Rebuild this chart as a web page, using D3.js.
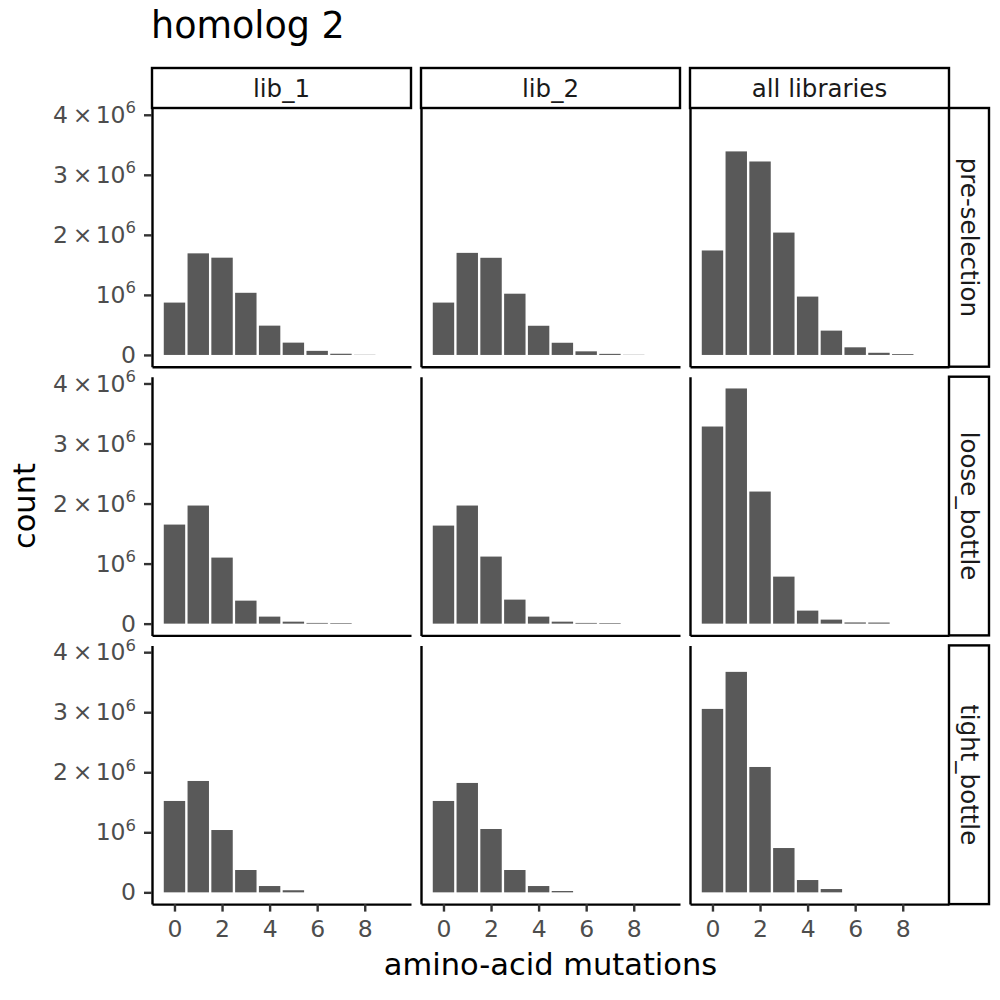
<!DOCTYPE html>
<html>
<head>
<meta charset="utf-8">
<script src="https://cdn.jsdelivr.net/npm/d3@7"></script>
<style>
  html, body { margin: 0; padding: 0; background: #fff; }
  svg { display: block; }
  text { font-family: "DejaVu Sans", sans-serif; }
</style>
</head>
<body>
<svg id="chart" width="1000" height="1000"></svg>
<script>
// ---- data ----
const bins = [0, 1, 2, 3, 4, 5, 6, 7, 8, 9];
const colLabels = ["lib_1", "lib_2", "all libraries"];
const rowLabels = ["pre-selection", "loose_bottle", "tight_bottle"];

const preLib1 = [872000, 1692000, 1620000, 1035000, 488000, 205000, 68000, 20000, 3000, 0];
const preLib2 = [872000, 1700000, 1618000, 1020000, 486000, 203000, 60000, 18000, 3000, 0];
const preAll  = [1740000, 3390000, 3222000, 2038000, 972000, 405000, 127000, 36000, 14000, 0];

const looseLib1 = [1650000, 1967000, 1100000, 383000, 117000, 33000, 12000, 10000, 0, 0];
const looseLib2 = [1633000, 1967000, 1117000, 400000, 117000, 33000, 12000, 10000, 0, 0];
const looseAll  = [3283000, 3917000, 2200000, 783000, 217000, 67000, 20000, 18000, 0, 0];

const tightLib1 = [1522000, 1855000, 1038000, 372000, 105000, 35000, 0, 0, 0, 0];
const tightLib2 = [1522000, 1822000, 1055000, 372000, 105000, 22000, 0, 0, 0, 0];
const tightAll  = [3055000, 3672000, 2088000, 738000, 205000, 55000, 0, 0, 0, 0];

const yTickValues = [0, 1000000, 2000000, 3000000, 4000000];
const xTickValues = [0, 2, 4, 6, 8];
const titleText = "homolog 2";
const xTitle = "amino-acid mutations";
const yTitle = "count";

const grid = [
  [preLib1, preLib2, preAll],
  [looseLib1, looseLib2, looseAll],
  [tightLib1, tightLib2, tightAll]
];

// ---- layout ----
const panelLeft = 152, colStep = 269, panelW = 259;
const panelTop = 108, rowStep = 268.7, panelH = 258.7;
const stripH = 40, stripW = 40;
const barFill = "#595959";
const lineW = 2.4;
const tickFont = 23.5, stripFont = 24.5, axisTitleFont = 30.5, titleFont = 36.5;

const svg = d3.select("#chart");

// scales shared across panels
const barWidth = 0.9;
const xlo = d3.min(bins) - barWidth / 2, xhi = d3.max(bins) + barWidth / 2;
const xpad = 0.05 * (xhi - xlo);
const x = d3.scaleLinear().domain([xlo - xpad, xhi + xpad]).range([0, panelW]);

const allVals = grid.flat(2);
const ymax = d3.max(allVals);
const y = d3.scaleLinear().domain([-0.05 * ymax, 1.05 * ymax]).range([panelH, 0]);

function fmtY(sel) {
  sel.each(function(d) {
    const t = d3.select(this);
    t.text(null);
    if (d === 0) { t.text("0"); return; }
    const m = Math.round(d / 1e6);
    if (m !== 1) {
      t.append("tspan").text(String(m));
      t.append("tspan").attr("dx", "0.2em").text("\u00d7");
      t.append("tspan").attr("dx", "0.14em").text("10");
    } else {
      t.append("tspan").text("10");
    }
    t.append("tspan").attr("font-size", "0.7em").attr("dy", "-0.58em").text("6");
  });
}

// title
svg.append("text")
  .attr("x", 151).attr("y", 38)
  .attr("font-size", titleFont).attr("fill", "#000")
  .text(titleText);

grid.forEach((row, ri) => {
  row.forEach((vals, ci) => {
    const gx = panelLeft + ci * colStep;
    const gy = panelTop + ri * rowStep;
    const g = svg.append("g").attr("transform", `translate(${gx},${gy})`);

    // bars
    g.selectAll("rect.bar")
      .data(bins.map((b, i) => ({ b, v: vals[i] })))
      .join("rect")
      .attr("class", "bar")
      .attr("x", d => x(d.b - barWidth / 2))
      .attr("width", d => x(d.b + barWidth / 2) - x(d.b - barWidth / 2))
      .attr("y", d => y(Math.max(0, d.v)))
      .attr("height", d => y(0) - y(Math.max(0, d.v)))
      .attr("fill", barFill);

    // y axis
    const ya = d3.axisLeft(y).tickSize(8).tickSizeOuter(0).tickPadding(8);
    if (ci === 0) ya.tickValues(yTickValues); else ya.tickValues([]);
    const yg = g.append("g").call(ya);
    yg.select(".domain").attr("stroke", "#000").attr("stroke-width", lineW);
    yg.selectAll(".tick line").attr("stroke", "#333").attr("stroke-width", lineW);
    yg.selectAll(".tick text")
      .attr("font-family", "DejaVu Sans").attr("font-size", tickFont).attr("fill", "#4d4d4d")
      .call(fmtY);

    // x axis
    const xa = d3.axisBottom(x).tickSize(7.5).tickSizeOuter(0).tickPadding(9);
    if (ri === 2) xa.tickValues(xTickValues); else xa.tickValues([]);
    const xg = g.append("g").attr("transform", `translate(0,${panelH})`).call(xa);
    xg.select(".domain").attr("stroke", "#000").attr("stroke-width", lineW);
    xg.selectAll(".tick line").attr("stroke", "#333").attr("stroke-width", lineW);
    xg.selectAll(".tick text")
      .attr("font-family", "DejaVu Sans").attr("font-size", tickFont).attr("fill", "#4d4d4d");
  });
});

// top strips
colLabels.forEach((lab, ci) => {
  const gx = panelLeft + ci * colStep;
  const s = svg.append("g").attr("transform", `translate(${gx},${panelTop - stripH})`);
  s.append("rect").attr("width", panelW).attr("height", stripH)
    .attr("fill", "#fff").attr("stroke", "#000").attr("stroke-width", lineW);
  s.append("text").attr("x", panelW / 2).attr("y", stripH / 2)
    .attr("text-anchor", "middle").attr("dominant-baseline", "central")
    .attr("font-size", stripFont).attr("fill", "#1a1a1a").text(lab);
});

// right strips
rowLabels.forEach((lab, ri) => {
  const gx = panelLeft + 2 * colStep + panelW;
  const gy = panelTop + ri * rowStep;
  const s = svg.append("g").attr("transform", `translate(${gx},${gy})`);
  s.append("rect").attr("width", stripW).attr("height", panelH)
    .attr("fill", "#fff").attr("stroke", "#000").attr("stroke-width", lineW);
  s.append("text")
    .attr("transform", `translate(${stripW / 2},${panelH / 2}) rotate(90)`)
    .attr("text-anchor", "middle").attr("dominant-baseline", "central")
    .attr("font-size", stripFont).attr("fill", "#1a1a1a").text(lab);
});

// axis titles
const plotMidX = panelLeft + (2 * colStep + panelW) / 2;
const plotMidY = panelTop + (2 * rowStep + panelH) / 2;
svg.append("text")
  .attr("x", plotMidX).attr("y", 975)
  .attr("text-anchor", "middle").attr("font-size", axisTitleFont).attr("fill", "#000")
  .text(xTitle);
svg.append("text")
  .attr("transform", `translate(35,${plotMidY}) rotate(-90)`)
  .attr("text-anchor", "middle").attr("font-size", axisTitleFont).attr("fill", "#000")
  .text(yTitle);
</script>
</body>
</html>
